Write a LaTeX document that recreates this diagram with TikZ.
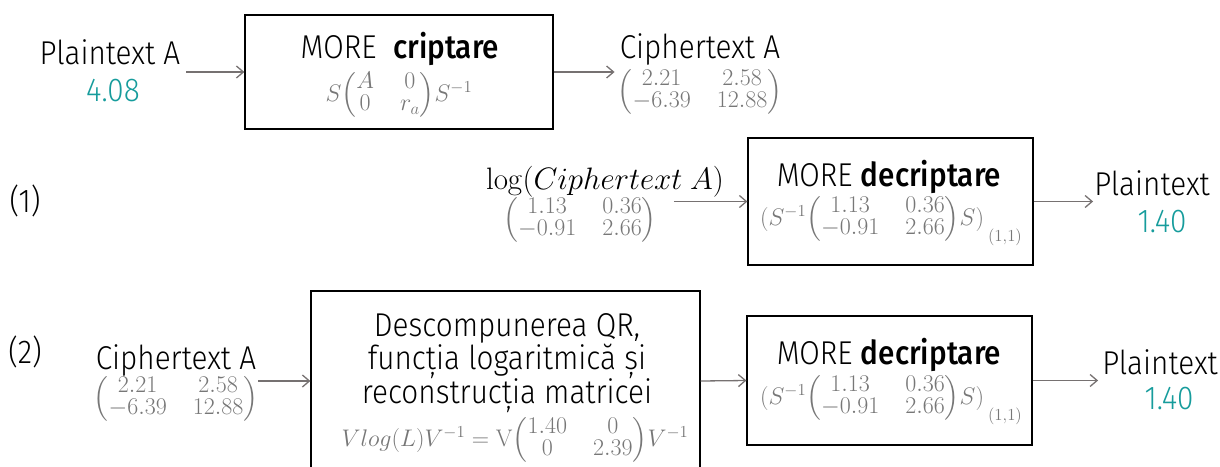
\RequirePackage{fix-cm}
\documentclass[tikz,border=0pt]{standalone}
\usepackage{amsmath}
\usepackage[no-math]{fontspec}
\setmainfont{Fira Sans}[UprightFont=* Light, BoldFont=* Medium, FakeStretch=0.9]
\usetikzlibrary{arrows.meta}
\definecolor{valteal}{HTML}{169C9C}
\definecolor{arrowgray}{HTML}{767171}
\definecolor{mathgray}{HTML}{777777}
\newcommand{\mtx}[1]{{\setlength{\arraycolsep}{13pt}\renewcommand{\arraystretch}{0.8}\left(\begin{matrix}#1\end{matrix}\right)}}
\newcommand{\entry}{\,\raisebox{-16pt}{$\scriptstyle(1,1)$}}
\begin{document}
\begin{tikzpicture}[x=1pt,y=-1pt,
  lbl/.style={font=\fontsize{33}{40}\selectfont, inner sep=0pt, anchor=base},
  num/.style={lbl, text=valteal},
  frm/.style={font=\fontsize{24}{27}\selectfont, text=mathgray, inner sep=0pt},
  stage/.style={draw=black, line width=1.2pt, inner sep=0pt},
  arr/.style={draw=arrowgray, line width=1.3pt, -{Straight Barb[length=7pt,width=12pt]}}]
\useasboundingbox (0,0) rectangle (1220,466);
\clip (0,0) rectangle (1220,466);

% top row: encryption
\node[lbl] (pa) at (110,64) {Plaintext A};
\node[num] (pav) at (113,101) {4.08};
\node[stage, minimum width=308pt, minimum height=114pt] (enc) at (399,72) {};
\node[lbl] (enct) at (400,58) {MORE\ \ \textbf{criptare}};
\node[frm] (encf) at (399,95) {$S\mtx{A & 0\\ 0 & r_a}S^{-1}$};
\node[lbl] (ca) at (700,58) {Ciphertext A};
\node[frm] (cam) at (700,92) {$\mtx{2.21 & 2.58\\ -6.39 & 12.88}$};
\draw[arr] ([xshift=6pt]pa.east |- enc.west) -- (enc.west);
\draw[arr] (enc.east) -- ([xshift=-3pt]cam.west |- enc.east);

% row (1)
\node[lbl] (r1) at (25,212) {(1)};
\node[lbl, font=\fontsize{31}{36}\selectfont] (lg) at (605,189) {$\log(\mathnormal{Ciphertext}\ A)$};
\node[frm] (lgm) at (580,220) {$\mtx{1.13 & 0.36\\ -0.91 & 2.66}$};
\node[stage, minimum width=285pt, minimum height=127pt] (dec1) at (890.5,201.5) {};
\node[lbl] (dec1t) at (889,186) {MORE \textbf{decriptare}};
\node[frm] (dec1f) at (891,221) {$(S^{-1}\mtx{1.13 & 0.36\\ -0.91 & 2.66}S)\entry$};
\node[lbl] (pt1) at (1152,195) {Plaintext};
\node[num] (pt1v) at (1162,232) {1.40};
\draw[arr] ([xshift=17pt]lgm.east |- dec1.west) -- (dec1.west);
\draw[arr] (dec1.east) -- ([xshift=-1pt]pt1.west |- dec1.east);

% row (2)
\node[lbl] (r2) at (25,363) {(2)};
\node[lbl] (cb) at (176,369) {Ciphertext A};
\node[frm] (cbm) at (176,399) {$\mtx{2.21 & 2.58\\ -6.39 & 12.88}$};
\node[stage, minimum width=389pt, minimum height=180pt] (qr) at (505.5,381) {};
\node[lbl] (qr1) at (507,336) {Descompunerea QR,};
\node[lbl] (qr2) at (507,369) {funcția logaritmică și};
\node[lbl] (qr3) at (507,403) {reconstrucția matricei};
\node[frm] (qrf) at (515,440) {$Vlog(L)V^{-1} = \mathrm{V}\mtx{1.40 & 0\\ 0 & 2.39}V^{-1}$};
\node[stage, minimum width=285pt, minimum height=129pt] (dec2) at (889.5,380.5) {};
\node[lbl] (dec2t) at (889,364) {MORE \textbf{decriptare}};
\node[frm] (dec2f) at (891,400) {$(S^{-1}\mtx{1.13 & 0.36\\ -0.91 & 2.66}S)\entry$};
\node[lbl] (pt2) at (1160,374) {Plaintext};
\node[num] (pt2v) at (1169,409) {1.40};
\draw[arr] (cbm.east |- qr.west) -- (qr.west);
\draw[arr] (qr.east) -- (dec2.west);
\draw[arr] (dec2.east) -- ([xshift=-4pt]pt2.west |- dec2.east);
\end{tikzpicture}
\end{document}
